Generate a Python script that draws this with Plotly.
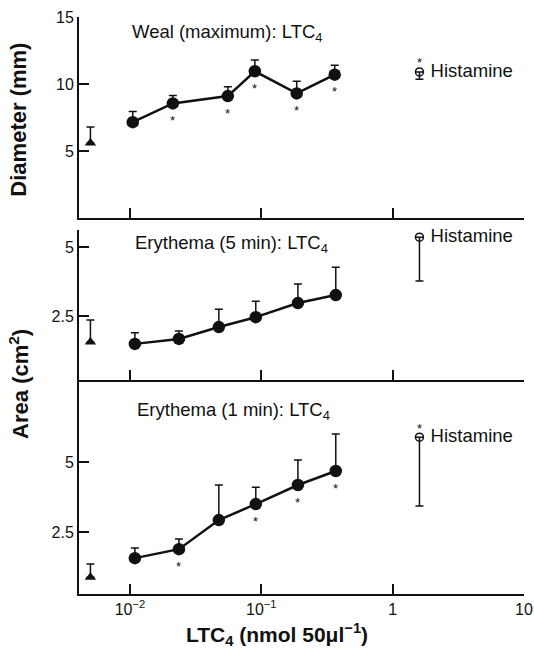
import math
import plotly.graph_objects as go

# ---------------- data ----------------
weal_dose = [0.0105, 0.0212, 0.0556, 0.0893, 0.186, 0.362]
weal_mean = [7.15, 8.55, 9.1, 10.95, 9.3, 10.7]
weal_err = [0.8, 0.6, 0.7, 0.85, 0.9, 0.7]
weal_sig = [False, True, True, True, True, True]

ery_dose = [0.0109, 0.0236, 0.0475, 0.0908, 0.19, 0.369]
ery5_mean = [1.49, 1.67, 2.1, 2.46, 2.97, 3.26]
ery5_err = [0.4, 0.29, 0.65, 0.58, 0.69, 1.01]
ery5_sig = [False, False, False, False, False, False]
ery1_mean = [1.57, 1.89, 2.93, 3.5, 4.18, 4.68]
ery1_err = [0.36, 0.36, 1.25, 0.6, 0.89, 1.32]
ery1_sig = [False, True, False, True, True, True]

control_dose = 0.005
control_mean = [5.6, 1.56, 0.89]      # weal, erythema 5 min, erythema 1 min
control_err = [1.2, 0.8, 0.47]

histamine_dose = 1.6
histamine_mean = [10.9, 5.36, 5.89]
histamine_err = [0.55, 1.59, 2.46]
histamine_sig = [True, False, True]

panel_titles = ["Weal (maximum): LTC<sub>4</sub>",
                "Erythema (5 min): LTC<sub>4</sub>",
                "Erythema (1 min): LTC<sub>4</sub>"]
x_tickvals = [0.01, 0.1, 1, 10]
x_ticktext = ["10<sup>\u22122</sup>", "10<sup>\u22121</sup>", "1", "10"]
y_ticks = [[5, 10, 15], [2.5, 5], [2.5, 5]]
y_ticktext = [["5", "10", "15"], ["2.5", "5"], ["2.5", "5"]]

# ---------------- figure ----------------
FONT = "Liberation Sans, Arial, Helvetica, sans-serif"
INK = "#111111"
LABEL_SIZE = 18.5
fig = go.Figure()

panels = [
    (weal_dose, weal_mean, weal_err, weal_sig),
    (ery_dose, ery5_mean, ery5_err, ery5_sig),
    (ery_dose, ery1_mean, ery1_err, ery1_sig),
]
annotations = []
for i, (dose, mean, err, sig) in enumerate(panels):
    xa = "x" if i == 0 else f"x{i+1}"
    ya = "y" if i == 0 else f"y{i+1}"
    # LTC4 dose-response
    fig.add_trace(go.Scatter(
        x=dose, y=mean, mode="lines+markers", xaxis=xa, yaxis=ya, cliponaxis=False,
        line=dict(color=INK, width=2.5),
        marker=dict(symbol="circle", size=12.5, color=INK),
        error_y=dict(type="data", array=err, arrayminus=[0] * len(err),
                     symmetric=False, color=INK, thickness=1.5, width=4),
        showlegend=False))
    # control (triangle)
    fig.add_trace(go.Scatter(
        x=[control_dose], y=[control_mean[i]], mode="markers", xaxis=xa, yaxis=ya,
        cliponaxis=False,
        marker=dict(symbol="triangle-up", size=10, color=INK),
        error_y=dict(type="data", array=[control_err[i]], arrayminus=[0],
                     symmetric=False, color=INK, thickness=1.5, width=4),
        showlegend=False))
    # histamine (open circle)
    fig.add_trace(go.Scatter(
        x=[histamine_dose], y=[histamine_mean[i]], mode="markers+text", xaxis=xa, yaxis=ya,
        cliponaxis=False,
        marker=dict(symbol="circle-open", size=8, color=INK, line=dict(width=1.5)),
        text=[" Histamine"], textposition="middle right",
        textfont=dict(family=FONT, size=LABEL_SIZE, color=INK),
        error_y=dict(type="data", array=[0], arrayminus=[histamine_err[i]],
                     symmetric=False, color=INK, thickness=1.5, width=4),
        showlegend=False))
    # asterisks (annotation x on a log axis is given in log10 units)
    for xd, yd, s in zip(dose, mean, sig):
        if s:
            annotations.append(dict(x=math.log10(xd), y=yd, xref=xa, yref=ya, text="*",
                                    showarrow=False, yshift=-17,
                                    font=dict(family=FONT, size=13, color=INK)))
    if histamine_sig[i]:
        annotations.append(dict(x=math.log10(histamine_dose), y=histamine_mean[i],
                                xref=xa, yref=ya, text="*", showarrow=False, yshift=9,
                                font=dict(family=FONT, size=13, color=INK)))

# panel titles
title_pos = [(0.1146, 0.972), (0.121, 0.607), (0.126, 0.317)]
for t, (px, py) in zip(panel_titles, title_pos):
    annotations.append(dict(x=px, y=py, xref="paper", yref="paper", text=t,
                            showarrow=False, xanchor="left", yanchor="middle",
                            font=dict(family=FONT, size=LABEL_SIZE, color=INK)))

# axis titles
annotations.append(dict(x=-0.135, y=0.822, xref="paper", yref="paper",
                        text="<b>Diameter (mm)</b>", textangle=-90, showarrow=False,
                        xanchor="center", yanchor="middle",
                        font=dict(family=FONT, size=22, color=INK)))
annotations.append(dict(x=-0.135, y=0.364, xref="paper", yref="paper",
                        text="<b>Area (cm<sup>2</sup>)</b>", textangle=-90, showarrow=False,
                        xanchor="center", yanchor="middle",
                        font=dict(family=FONT, size=22, color=INK)))
annotations.append(dict(x=0.446, y=-0.07, xref="paper", yref="paper",
                        text="<b>LTC<sub>4</sub> (nmol 50\u03bcl<sup>\u22121</sup>)</b>",
                        showarrow=False, xanchor="center", yanchor="middle",
                        font=dict(family=FONT, size=21, color=INK)))

domains = [[0.6516, 1.0], [0.3709, 0.6308], [0.0, 0.3709]]
yranges = [[0, 15], [0.18, 5.62], [0.29, 7.93]]

common_x = dict(type="log", range=[-2.388, 1], tickvals=x_tickvals, ticktext=x_ticktext,
                ticks="inside", ticklen=10, tickwidth=1.5, tickcolor=INK,
                showline=True, linewidth=2, linecolor=INK, showgrid=False,
                zeroline=False, domain=[0, 1], automargin=False,
                tickfont=dict(family=FONT, size=16, color=INK))

layout = dict(width=534, height=652, plot_bgcolor="white", paper_bgcolor="white",
              margin=dict(l=79, r=10, t=17, b=58, autoexpand=False),
              annotations=annotations,
              font=dict(family=FONT, color=INK))
for i in range(3):
    xk = "xaxis" if i == 0 else f"xaxis{i+1}"
    yk = "yaxis" if i == 0 else f"yaxis{i+1}"
    xa = dict(common_x)
    xa["anchor"] = "y" if i == 0 else f"y{i+1}"
    xa["showticklabels"] = (i == 2)
    if i > 0:
        xa["matches"] = "x"
    layout[xk] = xa
    layout[yk] = dict(domain=domains[i], range=yranges[i], tickvals=y_ticks[i],
                      ticktext=y_ticktext[i], ticks="inside", ticklen=10, tickwidth=1.5,
                      tickcolor=INK, showline=True, linewidth=2, linecolor=INK,
                      showgrid=False, zeroline=False, automargin=False,
                      anchor="x" if i == 0 else f"x{i+1}",
                      tickfont=dict(family=FONT, size=16, color=INK))

fig.update_layout(**layout)
fig.write_html("out.html", config={"displayModeBar": False},
               post_script="document.body.style.margin='0px';document.body.style.overflow='hidden';")
